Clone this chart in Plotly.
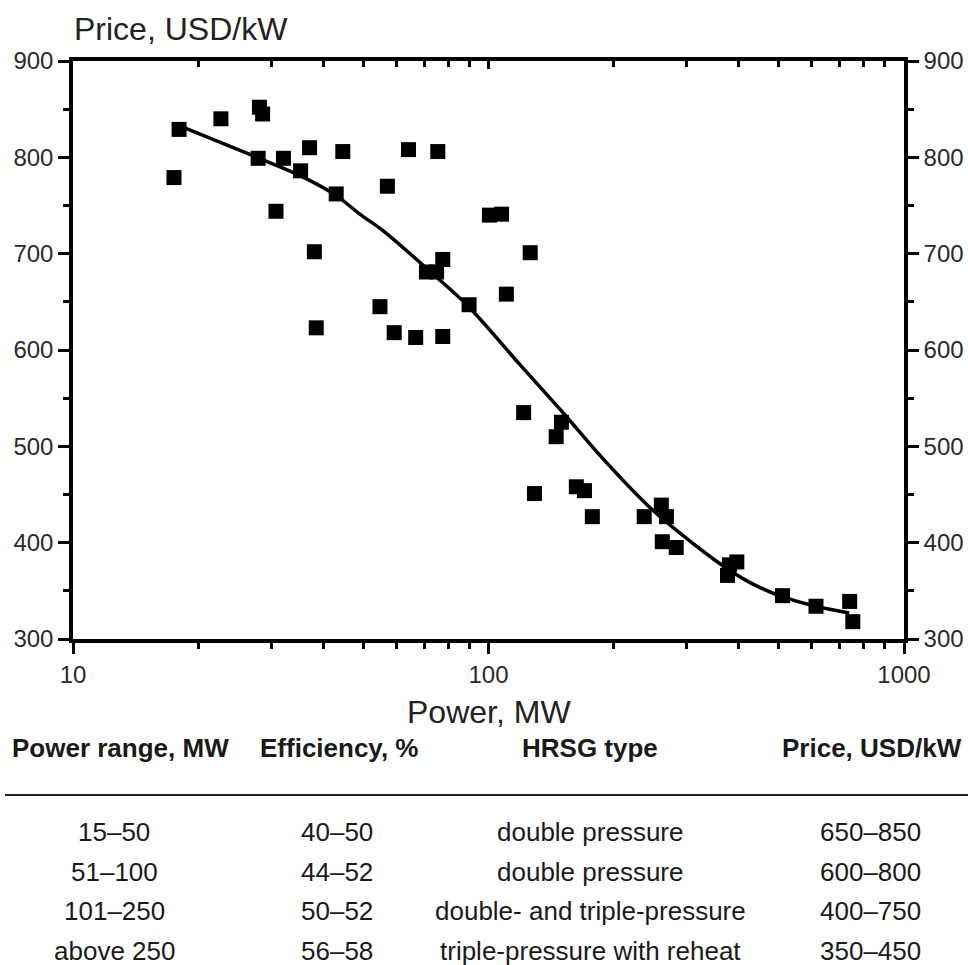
import plotly.graph_objects as go

# ---- measured plant data: unit power (MW) vs specific price (USD/kW) ----
power_mw = [17.5, 18.0, 22.7, 28.1, 28.6, 27.9, 32.1, 30.8, 35.3, 37.1,
            43.0, 44.6, 38.1, 38.5, 57.1, 54.8, 64.2, 59.3, 66.8, 75.5,
            70.9, 75.0, 77.6, 77.6, 89.8, 100.5, 107.5, 110.4, 126.0, 121.5,
            129.0, 149.8, 145.5, 162.7, 170.2, 177.8, 237.0, 260.6, 268.0, 262.0,
            283.0, 376.0, 380.0, 396.0, 510.0, 614.0, 740.0, 753.0]
price_usd_kw = [779, 829, 840, 852, 845, 799, 799, 744, 786, 810,
                762, 806, 702, 623, 770, 645, 808, 618, 613, 806,
                681, 681, 694, 614, 647, 740, 741, 658, 701, 535,
                451, 525, 510, 458, 454, 427, 427, 439, 427, 401,
                395, 366, 377, 380, 345, 334, 339, 318]

# ---- trend curve through the data ----
trend_power = [18.0, 27.7, 35.2, 43.1, 49.0, 55.7, 73.0, 89.1, 118.9, 153.9,
               187.8, 243.9, 292.5, 353.0, 424.0, 509.0, 614.0, 738.0]
trend_price = [833, 800, 781, 760, 741, 724, 680, 646, 585, 531,
               488, 437, 408, 381, 359, 344, 334, 327]

# ---- axis ticks ----
x_major = [10, 100, 1000]
x_major_text = ["10", "100", "1000"]
x_minor = [20, 30, 40, 50, 60, 70, 80, 90, 200, 300, 400, 500, 600, 700, 800, 900]
y_major = [300, 400, 500, 600, 700, 800, 900]
y_minor = [350, 450, 550, 650, 750, 850]

# ---- summary table ----
table_header = ["Power range, MW", "Efficiency, %", "HRSG type", "Price, USD/kW"]
col_power = ["15–50", "51–100", "101–250", "above 250"]
col_eff = ["40–50", "44–52", "50–52", "56–58"]
col_hrsg = ["double pressure", "double pressure",
            "double- and triple-pressure", "triple-pressure with reheat"]
col_price = ["650–850", "600–800", "400–750", "350–450"]

W, H = 968, 965
ML, MR, MT, MB = 73, 64, 61, 326
PW, PH = W - ML - MR, H - MT - MB


def fx(p):
    """pixel column -> paper x"""
    return (p - ML) / PW


def fy(p):
    """pixel row -> paper y"""
    return (H - MB - p) / PH


FONT = "Liberation Sans"
TXT = "#1a1a1a"

fig = go.Figure()

fig.add_trace(go.Scatter(
    x=trend_power, y=trend_price, mode="lines",
    line=dict(color="black", width=3.5, shape="spline", smoothing=1.0),
    hoverinfo="skip", showlegend=False))

fig.add_trace(go.Scatter(
    x=power_mw, y=price_usd_kw, mode="markers",
    marker=dict(symbol="square", size=15, color="black", line=dict(width=0)),
    showlegend=False))

# empty trace to carry the mirrored top / right axes
fig.add_trace(go.Scatter(x=[], y=[], xaxis="x2", yaxis="y2", showlegend=False))

axis_line = dict(showline=True, linewidth=3.5, linecolor="black",
                 showgrid=False, zeroline=False, automargin=False)
tickfont = dict(family=FONT, size=24, color="#2a2a2a")

fig.update_layout(
    width=W, height=H,
    margin=dict(l=ML, r=MR, t=MT, b=MB, autoexpand=False),
    paper_bgcolor="white", plot_bgcolor="white",
    xaxis=dict(type="log", range=[1, 3], anchor="y",
               tickvals=x_major, ticktext=x_major_text,
               ticks="outside", ticklen=11, tickwidth=3, tickcolor="black",
               tickfont=tickfont,
               minor=dict(tickvals=x_minor, ticks="outside", ticklen=6,
                          tickwidth=3, tickcolor="black", showgrid=False),
               **axis_line),
    xaxis2=dict(type="log", range=[1, 3], overlaying="x", side="top",
                anchor="y", showticklabels=False,
                tickvals=x_major, ticks="inside", ticklen=8, tickwidth=3,
                tickcolor="black",
                minor=dict(tickvals=x_minor, ticks="inside", ticklen=6,
                           tickwidth=3, tickcolor="black", showgrid=False),
                **axis_line),
    yaxis=dict(range=[300, 900], anchor="x",
               tickvals=y_major, ticks="outside", ticklen=11, tickwidth=3,
               tickcolor="black", tickfont=tickfont,
               minor=dict(tickvals=y_minor, ticks="outside", ticklen=6,
                          tickwidth=3, tickcolor="black", showgrid=False),
               **axis_line),
    yaxis2=dict(range=[300, 900], overlaying="y", side="right", anchor="x",
                tickvals=y_major, ticks="outside", ticklen=11, tickwidth=3,
                tickcolor="black", tickfont=tickfont,
                minor=dict(tickvals=y_minor, ticks="outside", ticklen=6,
                           tickwidth=3, tickcolor="black", showgrid=False),
                **axis_line),
)

annotations = [
    dict(text="Price, USD/kW", x=fx(72), y=fy(29), xanchor="left", yanchor="middle",
         font=dict(family=FONT, size=32, color="#222")),
    dict(text="Power, MW", x=fx(489), y=fy(712), xanchor="center", yanchor="middle",
         font=dict(family=FONT, size=32, color="#222")),
]

col_x = [114, 337, 590, 870]
header_x = [120, 339, 590, 872]
header_y = 748
row_y = [832, 872, 911, 951]

for hx, label in zip(header_x, table_header):
    annotations.append(dict(text=f"<b>{label}</b>", x=fx(hx), y=fy(header_y),
                            xanchor="center", yanchor="middle",
                            font=dict(family=FONT, size=26, color=TXT)))

columns = [col_power, col_eff, col_hrsg, col_price]
for cx, col in zip(col_x, columns):
    for ry, val in zip(row_y, col):
        annotations.append(dict(text=val, x=fx(cx), y=fy(ry),
                                xanchor="center", yanchor="middle",
                                font=dict(family=FONT, size=26, color=TXT)))

for a in annotations:
    a.update(xref="paper", yref="paper", showarrow=False)
fig.update_layout(annotations=annotations)

# rule under the table header
fig.add_shape(type="line", xref="paper", yref="paper",
              x0=fx(5), x1=fx(968), y0=fy(795), y1=fy(795),
              line=dict(color="#222", width=2))

fig.write_html("out.html")
